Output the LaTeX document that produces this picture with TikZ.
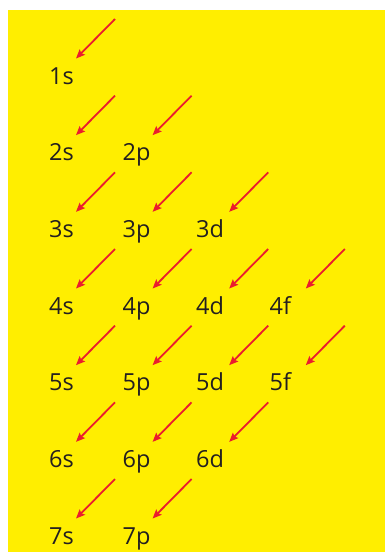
\documentclass[tikz,border=0pt]{standalone}
\usepackage{fontspec}
\setmainfont{Open Sans}
\usetikzlibrary{arrows.meta}
\definecolor{bgyellow}{RGB}{255,238,0}
\definecolor{arrred}{RGB}{234,28,46}
\definecolor{txt}{RGB}{35,31,32}
\tikzset{
  orb/.style={anchor=base west, inner sep=0pt, text=txt, font=\fontsize{23.5}{26}\selectfont},
  fillarrow/.style={draw=arrred, line width=1.8pt, -{Stealth[length=9pt,width=7.5pt,inset=1.5pt]}},
}
\begin{document}
\begin{tikzpicture}[x=1pt,y=-1pt]
\useasboundingbox (0,0) rectangle (385,552);
\fill[bgyellow] (8,10) rectangle (385,552);
\foreach \r/\cols in {1/{s},2/{s,p},3/{s,p,d},4/{s,p,d,f},5/{s,p,d,f},6/{s,p,d},7/{s,p}}{
  \foreach \l [count=\c from 0] in \cols {
    \node[orb] (lab\r\l) at ({49+73.5*\c},{84+76.67*(\r-1)}) {\r\l};
    \coordinate (from\r\l) at ({115+76.6*\c},{19+76.67*(\r-1)});
    \coordinate (to\r\l) at ({76+76.6*\c},{58.5+76.67*(\r-1)});
    \draw[fillarrow] (from\r\l) -- (to\r\l);
  }
}
\end{tikzpicture}
\end{document}
